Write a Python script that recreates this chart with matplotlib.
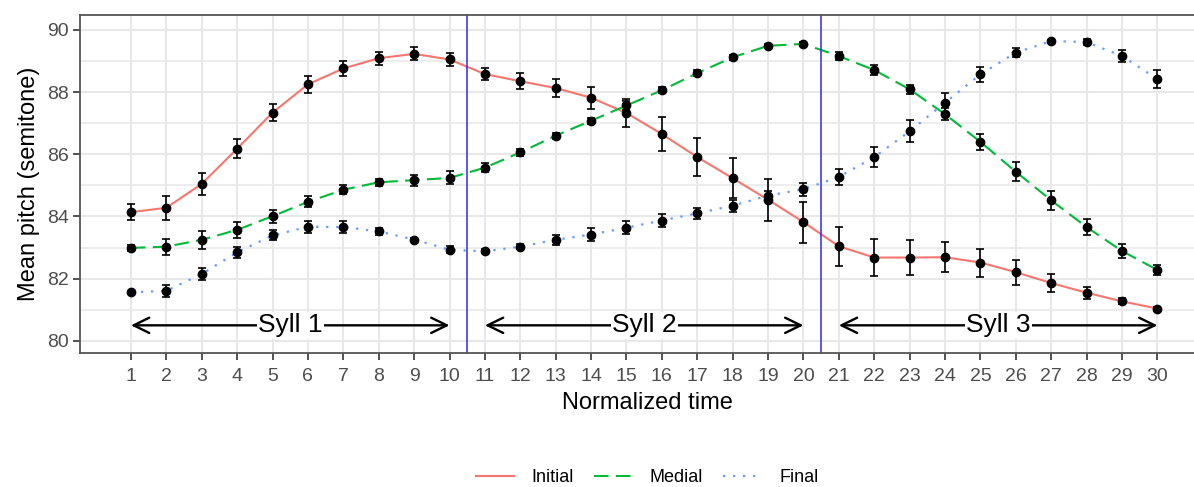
import matplotlib.pyplot as plt
import numpy as np
from matplotlib.ticker import MultipleLocator

plt.rcParams['font.family'] = ['Liberation Sans', 'DejaVu Sans']

# normalized time points and per-position means / standard errors
time = np.arange(1, 31)

initial_mean = [84.14, 84.28, 85.05, 86.18, 87.34, 88.25, 88.76, 89.09, 89.23, 89.05,
                88.58, 88.35, 88.13, 87.82, 87.33, 86.65, 85.91, 85.23, 84.54, 83.82,
                83.04, 82.68, 82.68, 82.69, 82.52, 82.21, 81.86, 81.55, 81.27, 81.04]
initial_se = [0.25, 0.38, 0.35, 0.31, 0.28, 0.27, 0.24, 0.21, 0.21, 0.20,
              0.20, 0.25, 0.29, 0.35, 0.44, 0.54, 0.62, 0.65, 0.67, 0.66,
              0.63, 0.59, 0.55, 0.48, 0.45, 0.40, 0.28, 0.19, 0.10, 0.05]

medial_mean = [82.99, 83.03, 83.25, 83.57, 84.01, 84.47, 84.86, 85.10, 85.17, 85.24,
               85.57, 86.06, 86.60, 87.08, 87.57, 88.06, 88.61, 89.12, 89.49, 89.55,
               89.16, 88.71, 88.09, 87.29, 86.40, 85.44, 84.52, 83.66, 82.89, 82.28]
medial_se = [0.10, 0.26, 0.28, 0.25, 0.21, 0.18, 0.14, 0.12, 0.18, 0.21,
             0.15, 0.10, 0.10, 0.10, 0.16, 0.10, 0.10, 0.08, 0.06, 0.07,
             0.13, 0.15, 0.15, 0.20, 0.25, 0.30, 0.30, 0.26, 0.23, 0.15]

final_mean = [81.56, 81.61, 82.15, 82.85, 83.39, 83.67, 83.66, 83.52, 83.26, 82.93,
              82.88, 83.03, 83.25, 83.42, 83.64, 83.87, 84.10, 84.35, 84.67, 84.88,
              85.27, 85.91, 86.74, 87.66, 88.57, 89.27, 89.64, 89.61, 89.16, 88.42]
final_se = [0.03, 0.19, 0.19, 0.18, 0.16, 0.20, 0.19, 0.12, 0.05, 0.12,
            0.07, 0.08, 0.17, 0.20, 0.21, 0.21, 0.18, 0.19, 0.14, 0.21,
            0.26, 0.32, 0.35, 0.30, 0.24, 0.15, 0.05, 0.10, 0.20, 0.30]

syll_labels = ["Syll 1", "Syll 2", "Syll 3"]
syll_start = [1, 11, 21]
syll_end = [10, 20, 30]
boundaries = [10.5, 20.5]

fig = plt.figure(figsize=(11.94, 4.87), dpi=100)
ax = fig.add_axes([80 / 1194, 1 - 353 / 487, (1214 - 80) / 1194, (353 - 15) / 487])

series = [
    ("Initial", initial_mean, initial_se, "#F8766D", "-"),
    ("Medial", medial_mean, medial_se, "#00BA38", (0, (7, 3.5))),
    ("Final", final_mean, final_se, "#619CFF", (0, (1, 3.5))),
]

handles = []
for name, mean, se, col, ls in series:
    lw = 1.6 if name == "Final" else 1.5
    h, = ax.plot(time, mean, color=col, linestyle=ls, lw=lw, zorder=2, label=name)
    handles.append(h)
    ax.errorbar(time, mean, yerr=se, fmt='o', color='black', ms=6,
                elinewidth=1.2, capsize=3, capthick=1.2, zorder=3)

for b in boundaries:
    ax.axvline(b, color='#2828FF', lw=1.1, zorder=2.5)

for lab, s, e in zip(syll_labels, syll_start, syll_end):
    ax.annotate('', xy=(e, 80.5), xytext=(s, 80.5),
                arrowprops=dict(arrowstyle='<->,head_length=0.45,head_width=0.22',
                                lw=1.7, color='black', shrinkA=0, shrinkB=0,
                                mutation_scale=25), zorder=4)
    ax.text((s + e) / 2, 80.5, lab, ha='center', va='center', fontsize=19,
            bbox=dict(fc='white', ec='none', pad=1.0), zorder=5)

ax.set_xlim(-0.44, 31.6)
ax.set_ylim(79.61, 90.48)
ax.set_xticks(time)
ax.yaxis.set_major_locator(MultipleLocator(2))
ax.yaxis.set_minor_locator(MultipleLocator(1))
ax.grid(which='major', color='#E8E8E8', lw=1.5, zorder=0)
ax.grid(which='minor', axis='y', color='#E8E8E8', lw=1.1, zorder=0)
ax.set_axisbelow(True)
ax.tick_params(axis='both', which='major', length=5, width=1.2, color='#333333',
               labelsize=14, labelcolor='#4D4D4D', pad=3)
ax.tick_params(axis='x', which='major', pad=6)
ax.tick_params(axis='y', which='minor', length=0)
for side in ['left', 'bottom', 'top']:
    ax.spines[side].set_color('#555555')
    ax.spines[side].set_linewidth(1.3)
ax.spines['right'].set_visible(False)

ax.set_xlabel("Normalized time", fontsize=17, labelpad=5)
ax.set_ylabel("Mean pitch (semitone)", fontsize=17, labelpad=5)

fig.legend(handles=handles, loc='center', bbox_to_anchor=(647 / 1194, 1 - 478 / 487),
           ncol=3, frameon=False, fontsize=13, handlelength=2.1,
           columnspacing=1.1, handletextpad=1.0)

fig.savefig("out.png", dpi=100)
